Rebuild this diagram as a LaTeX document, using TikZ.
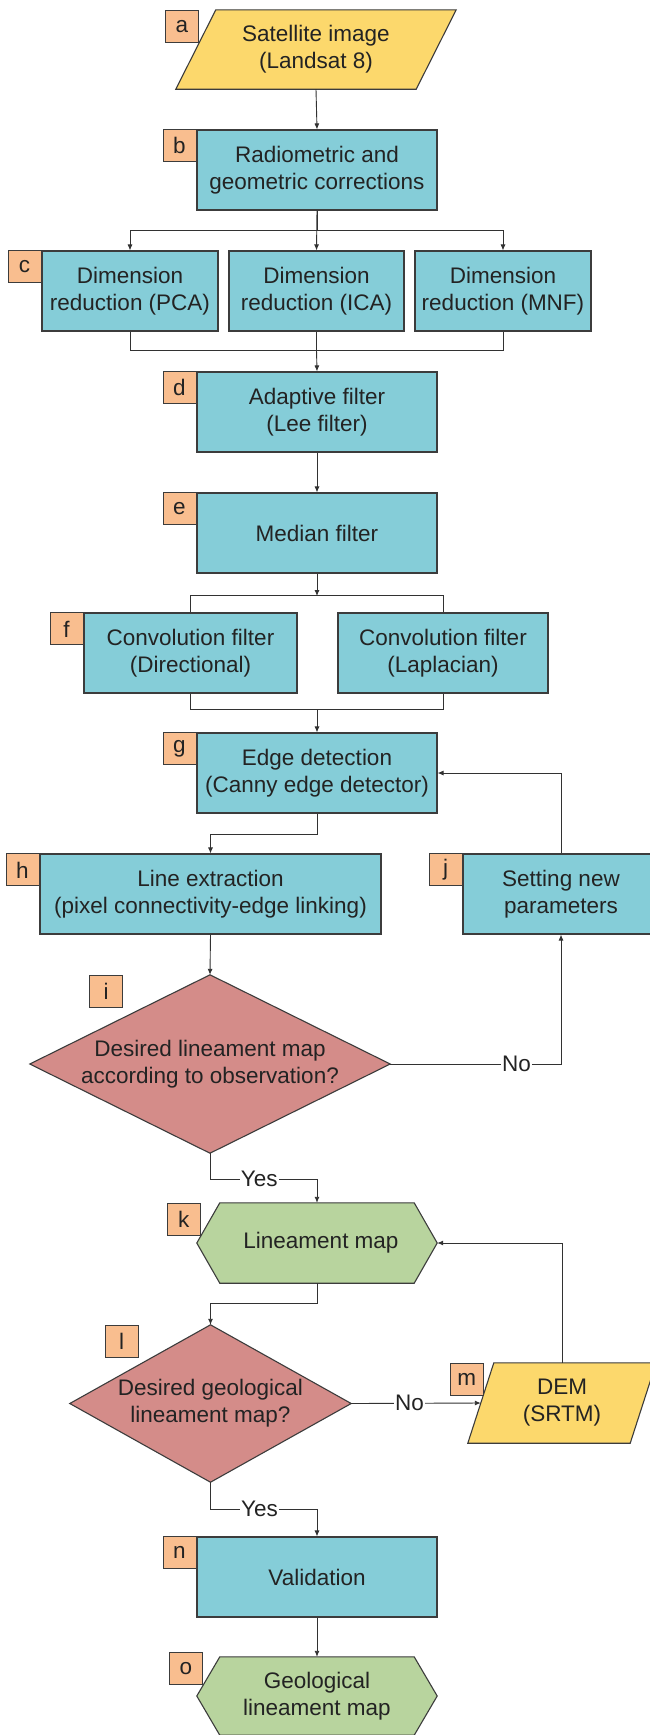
\documentclass[tikz,border=0pt]{standalone}
\usepackage{fontspec}
\setmainfont{Liberation Sans}
\usetikzlibrary{arrows.meta,backgrounds}
\definecolor{boxblue}{RGB}{133,205,216}
\definecolor{yel}{RGB}{252,216,108}
\definecolor{lblor}{RGB}{249,190,143}
\definecolor{dia}{RGB}{212,140,137}
\definecolor{grn}{RGB}{184,212,158}
\definecolor{bordc}{RGB}{60,60,60}
\definecolor{linec}{RGB}{50,50,50}
\definecolor{txt}{RGB}{35,35,35}
\newcommand\mf{\fontsize{22.5}{27}\selectfont}
\tikzset{
  box/.style={draw=bordc, line width=1.1pt, fill=boxblue, minimum height=80pt, align=center, inner sep=0pt, font=\mf, text=txt},
  shp/.style={minimum height=80pt, align=center, inner sep=0pt, font=\mf, text=txt},
  outl/.style={draw=bordc, line width=1.1pt},
  lbl/.style={draw=bordc, line width=0.9pt, fill=lblor, minimum width=33pt, minimum height=32pt, inner sep=0pt, anchor=north east, font=\mf, text=txt},
  ln/.style={line width=0.9pt, draw=linec},
  arr/.style={line width=0.9pt, draw=linec, -{Latex[length=6pt,width=5pt]}},
  tag/.style={fill=white, inner sep=1pt, font=\mf, text=txt}
}
\begin{document}
\begin{tikzpicture}[x=1pt,y=-1pt]
\useasboundingbox (0,0) rectangle (649,1735);
% nodes
\node[shp, minimum width=280pt, minimum height=79pt] (a) at (316,49.5) {Satellite image\\(Landsat 8)};
\node[box, minimum width=240pt] (b) at (317,170) {Radiometric and\\geometric corrections};
\node[box, minimum width=176pt] (c1) at (130,291) {Dimension\\reduction (PCA)};
\node[box, minimum width=175pt] (c2) at (316.5,291) {Dimension\\reduction (ICA)};
\node[box, minimum width=176pt] (c3) at (503,291) {Dimension\\reduction (MNF)};
\node[box, minimum width=240pt] (d) at (317,412) {Adaptive filter\\(Lee filter)};
\node[box, minimum width=240pt] (e) at (317,533) {Median filter};
\node[box, minimum width=213pt] (f1) at (190.5,653) {Convolution filter\\(Directional)};
\node[box, minimum width=210pt] (f2) at (443,653) {Convolution filter\\(Laplacian)};
\node[box, minimum width=240pt] (g) at (317,773) {Edge detection\\(Canny edge detector)};
\node[box, minimum width=341pt] (h) at (210.5,894) {Line extraction\\(pixel connectivity-edge linking)};
\node[box, minimum width=196pt] (j) at (561,894) {Setting new\\parameters};
\node[shp, minimum width=360pt, minimum height=178pt] (i) at (210,1064) {Desired lineament map\\according to observation?};
\node[shp, minimum width=240pt] (k) at (317,1243) {\hspace*{8pt}Lineament map};
\node[shp, minimum width=281pt, minimum height=157pt] (l) at (210.5,1403.5) {Desired geological\\lineament map?};
\node[shp, minimum width=188pt] (m) at (562,1403) {DEM\\(SRTM)};
\node[box, minimum width=240pt] (n) at (317,1577) {Validation};
\node[shp, minimum width=240pt, minimum height=78pt] (o) at (317,1696) {Geological\\lineament map};
% shapes on background
\begin{scope}[on background layer]
\fill[white] (0,0) rectangle (649,1735);
\filldraw[outl, fill=yel] ([xshift=40]a.north west) -- (a.north east) -- ([xshift=-40]a.south east) -- (a.south west) -- cycle;
\filldraw[outl, fill=yel] ([xshift=26]m.north west) -- (m.north east) -- ([xshift=-26]m.south east) -- (m.south west) -- cycle;
\filldraw[outl, fill=dia] (i.north) -- (i.east) -- (i.south) -- (i.west) -- cycle;
\filldraw[outl, fill=dia] (l.north) -- (l.east) -- (l.south) -- (l.west) -- cycle;
\filldraw[outl, fill=grn] ([xshift=23]k.north west) -- ([xshift=-23]k.north east) -- (k.east) -- ([xshift=-23]k.south east) -- ([xshift=23]k.south west) -- (k.west) -- cycle;
\filldraw[outl, fill=grn] ([xshift=23]o.north west) -- ([xshift=-23]o.north east) -- (o.east) -- ([xshift=-23]o.south east) -- ([xshift=23]o.south west) -- (o.west) -- cycle;
\end{scope}
% labels
\node[lbl] (la) at ([xshift=23]a.north west) {a};
\node[lbl] (lb) at (b.north west) {b};
\node[lbl] (lc) at (c1.north west) {c};
\node[lbl] (ld) at (d.north west) {d};
\node[lbl] (le) at (e.north west) {e};
\node[lbl] (lf) at (f1.north west) {f};
\node[lbl] (lg) at (g.north west) {g};
\node[lbl] (lh) at (h.north west) {h};
\node[lbl] (li) at ([xshift=-87]i.north) {i};
\node[lbl] (lj) at (j.north west) {j};
\node[lbl] (lk) at ([xshift=4]k.north west) {k};
\node[lbl] (ll) at ([xshift=-72]l.north) {l};
\node[lbl] (lm) at ([xshift=16]m.north west) {m};
\node[lbl] (ln) at (n.north west) {n};
\node[lbl] (lo) at ([xshift=6,yshift=5]o.north west) {o};
% coordinates
\coordinate (fsplit) at (317,596);
\coordinate (fmerge) at (317,709);
\coordinate (cmerge) at (316.5,350);
% connectors
\draw[arr] (a.south) -- (b.north);
\draw[arr] (b.south) -- (c2.north);
\draw[arr] (b.south) -- ++(0,20) -| (c1.north);
\draw[arr] (b.south) -- ++(0,20) -| (c3.north);
\draw[ln] (c1.south) -- ++(0,19) -| (c3.south);
\draw[ln] (c2.south) -- (cmerge);
\draw[arr] (cmerge) -- (d.north);
\draw[arr] (d.south) -- (e.north);
\draw[arr] (e.south) -- (fsplit);
\draw[ln] (f1.north) -- ++(0,-17) -| (f2.north);
\draw[ln] (f1.south) -- ++(0,16) -| (f2.south);
\draw[arr] (fmerge) -- (g.north);
\draw[arr] (g.south) -- ++(0,21) -| (h.north);
\draw[arr] (h.south) -- (i.north);
\draw[arr] (i.east) -| node[tag, pos=0.37] {No} (j.south);
\draw[arr] (j.north) |- (g.east);
\draw[arr] (i.south) -- ++(0,26) -| node[tag, pos=0.23] {Yes} (k.north);
\draw[arr] (k.south) -- ++(0,20) -| (l.north);
\draw[arr] (l.east) -- node[tag, pos=0.45] {No} ([xshift=13]m.west);
\draw[arr] (m.north) |- (k.east);
\draw[arr] (l.south) -- ++(0,27) -| node[tag, pos=0.23] {Yes} (n.north);
\draw[arr] (n.south) -- (o.north);
\end{tikzpicture}
\end{document}
